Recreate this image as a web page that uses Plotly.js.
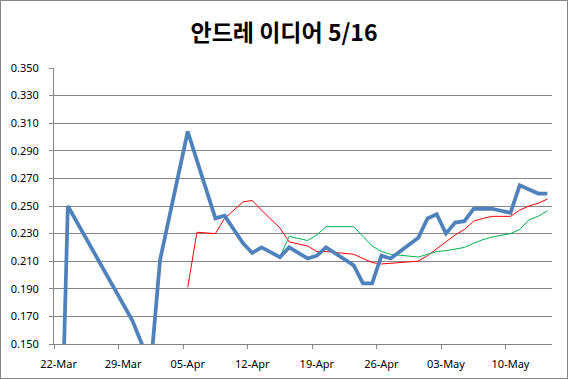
<!DOCTYPE html>
<html><head><meta charset="utf-8">
<script src="https://cdn.plot.ly/plotly-3.0.1.min.js"></script>
<style>
html,body{margin:0;padding:0;background:#fff}
#c{width:568px;height:379px;position:absolute;left:0;top:0}
#f{position:absolute;left:0;top:0;width:566px;height:377px;border:1px solid #868686;pointer-events:none}
</style>
</head><body><div id="c"></div><div id="f"></div>
<script>
const titleText = '안드레 이디어 5/16';
const tickDates = ['2014-03-22','2014-03-29','2014-04-05','2014-04-12','2014-04-19','2014-04-26','2014-05-03','2014-05-10'];
const tickLabels = ['22-Mar','29-Mar','05-Apr','12-Apr','19-Apr','26-Apr','03-May','10-May'];

const avgDates = ['2014-03-22','2014-03-23','2014-03-30','2014-04-01','2014-04-02','2014-04-05','2014-04-08','2014-04-09','2014-04-11','2014-04-12','2014-04-13','2014-04-15','2014-04-16','2014-04-18','2014-04-19','2014-04-20','2014-04-23','2014-04-24','2014-04-25','2014-04-26','2014-04-27','2014-04-30','2014-05-01','2014-05-02','2014-05-03','2014-05-04','2014-05-05','2014-05-06','2014-05-08','2014-05-10','2014-05-11','2014-05-13','2014-05-14'];
const avgValues = [0.000,0.250,0.167,0.134,0.211,0.304,0.241,0.243,0.223,0.216,0.220,0.213,0.220,0.212,0.214,0.220,0.207,0.194,0.194,0.214,0.212,0.227,0.241,0.244,0.230,0.238,0.239,0.248,0.248,0.245,0.265,0.259,0.259];

const redDates = ['2014-04-05','2014-04-06','2014-04-08','2014-04-09','2014-04-11','2014-04-12','2014-04-13','2014-04-15','2014-04-16','2014-04-18','2014-04-19','2014-04-20','2014-04-23','2014-04-25','2014-04-26','2014-04-30','2014-05-01','2014-05-02','2014-05-03','2014-05-04','2014-05-05','2014-05-06','2014-05-07','2014-05-08','2014-05-10','2014-05-11','2014-05-12','2014-05-13','2014-05-14'];
const redValues = [0.191,0.231,0.230,0.241,0.253,0.254,0.247,0.234,0.224,0.221,0.217,0.217,0.215,0.209,0.208,0.210,0.214,0.219,0.224,0.229,0.233,0.239,0.241,0.2425,0.2425,0.247,0.250,0.252,0.255];

const greenDates = ['2014-04-15','2014-04-16','2014-04-18','2014-04-19','2014-04-20','2014-04-23','2014-04-24','2014-04-25','2014-04-26','2014-04-27','2014-04-30','2014-05-01','2014-05-02','2014-05-03','2014-05-04','2014-05-05','2014-05-06','2014-05-07','2014-05-08','2014-05-10','2014-05-11','2014-05-12','2014-05-13','2014-05-14'];
const greenValues = [0.213,0.228,0.225,0.229,0.235,0.235,0.228,0.221,0.217,0.215,0.213,0.215,0.217,0.2176,0.219,0.220,0.223,0.2256,0.2275,0.230,0.233,0.240,0.2425,0.2466];

const boundaryTicks = ['2014-03-21 12:00','2014-03-28 12:00','2014-04-04 12:00','2014-04-11 12:00','2014-04-18 12:00','2014-04-25 12:00','2014-05-02 12:00','2014-05-09 12:00'];

const traces = [
  {x: redDates, y: redValues, type:'scatter', mode:'lines', line:{color:'#FF0000', width:1}, hoverinfo:'skip'},
  {x: greenDates, y: greenValues, type:'scatter', mode:'lines', line:{color:'#00B050', width:1}, hoverinfo:'skip'},
  {x: avgDates, y: avgValues, type:'scatter', mode:'lines', line:{color:'#4F81BD', width:3.75}, hoverinfo:'skip'}
];

const tickFont = {family:'Noto Sans, DejaVu Sans, sans-serif', size:11, color:'#000'};
const layout = {
  width:568, height:379,
  margin:{l:54, r:15.5, t:68, b:35, pad:0},
  paper_bgcolor:'#fff', plot_bgcolor:'#fff',
  showlegend:false,
  title:{text:titleText, font:{family:'Noto Sans CJK KR', size:23, color:'#000', weight:700}, x:0.5, xref:'container', xanchor:'center', y:0.912, yref:'container', yanchor:'middle'},
  xaxis:{type:'date', range:['2014-03-21 12:00','2014-05-14 12:00'], tickmode:'array', tickvals:tickDates, ticktext:tickLabels,
    ticks:'', showgrid:false, showline:true, linecolor:'#868686', linewidth:1, zeroline:false, tickfont:tickFont, ticklabelstandoff:10,
    minor:{tickmode:'array', tickvals:boundaryTicks, ticks:'outside', ticklen:4, tickcolor:'#868686', tickwidth:1, showgrid:false}},
  yaxis:{range:[0.150,0.350], tick0:0.15, dtick:0.02, tickformat:'.3f', showgrid:true, gridcolor:'#868686', gridwidth:1,
    showline:true, linecolor:'#868686', linewidth:1, ticks:'outside', ticklen:4, tickcolor:'#868686', zeroline:false, tickfont:tickFont, ticklabelstandoff:8}
};
Plotly.newPlot('c', traces, layout, {staticPlot:true, displayModeBar:false});
</script></body></html>
